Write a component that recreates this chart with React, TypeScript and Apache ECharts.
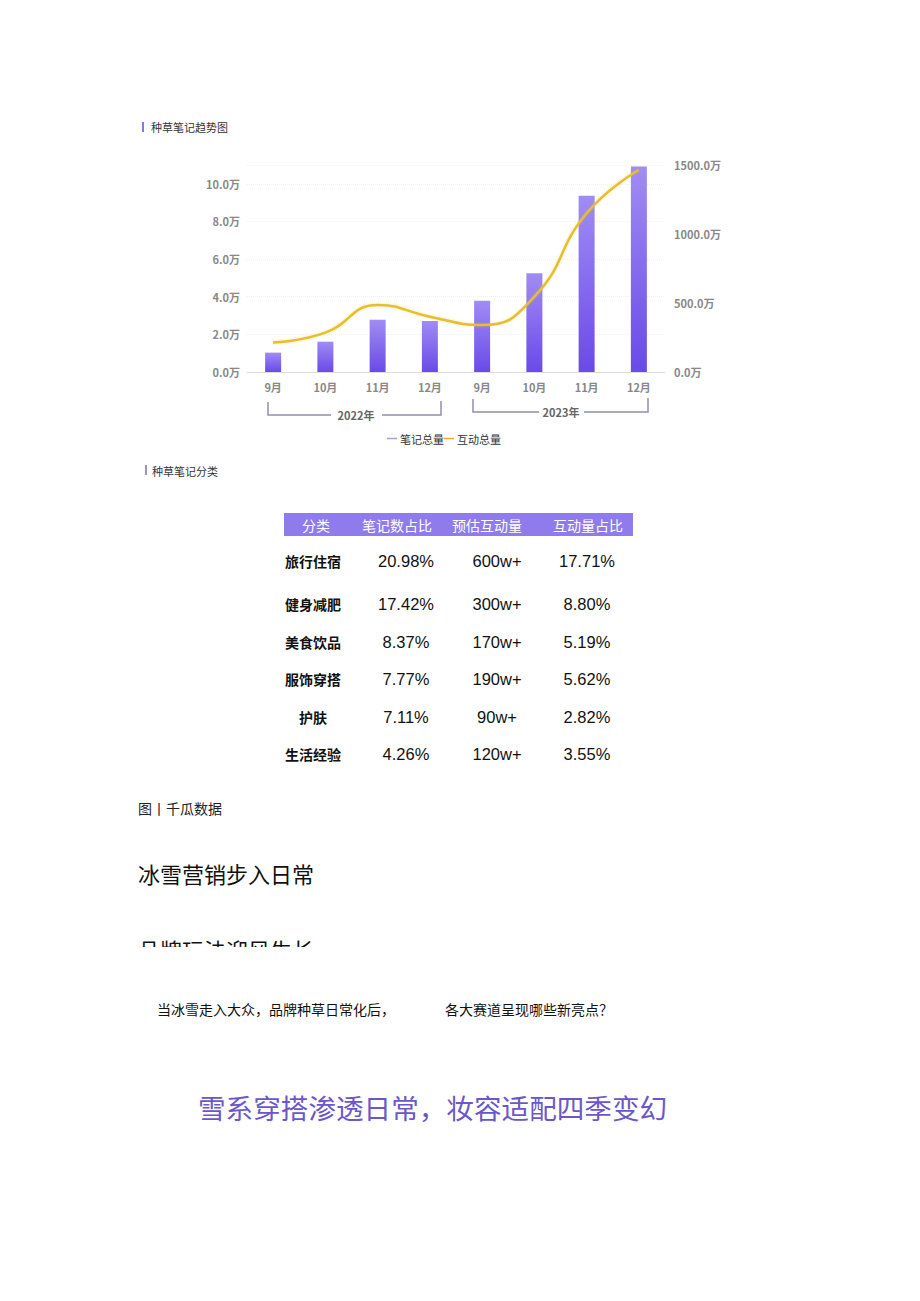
import React, { useEffect, useRef } from "react";
import * as echarts from "echarts";

// ---- chart data ----
const months = ["9月", "10月", "11月", "12月", "9月", "10月", "11月", "12月"];
const noteTotals = [1.03, 1.61, 2.77, 2.71, 3.78, 5.25, 9.36, 10.92]; // 万
const interactionTotals = [213, 285, 486, 401, 340, 546, 1150, 1464]; // 万
const yearLabels = ["2022年", "2023年"];
const seriesNames = ["笔记总量", "互动总量"];

// ---- table data ----
const tableHeaders = ["分类", "笔记数占比", "预估互动量", "互动量占比"];
const tableCategories = ["旅行住宿", "健身减肥", "美食饮品", "服饰穿搭", "护肤", "生活经验"];
const noteShare = ["20.98%", "17.42%", "8.37%", "7.77%", "7.11%", "4.26%"];
const estInteractions = ["600w+", "300w+", "170w+", "190w+", "90w+", "120w+"];
const interactionShare = ["17.71%", "8.80%", "5.19%", "5.62%", "2.82%", "3.55%"];

const CJK = "'Noto Sans CJK SC', 'Noto Sans', sans-serif";
const ARIAL = "'Liberation Sans', Arial, sans-serif";

export default function App() {
  const ref = useRef<HTMLDivElement>(null);

  useEffect(() => {
    if (!ref.current) return;
    const chart = echarts.init(ref.current, null, { renderer: "svg" });

    const colX = [313, 406, 497, 587];
    const headerX = [316, 397, 487, 588];
    const rowY = [561, 604, 642, 679, 717, 754];

    const graphics: any[] = [];
    // section titles
    graphics.push({ type: "rect", shape: { x: 142, y: 122, width: 2, height: 10 }, style: { fill: "#7b7fd6" } });
    graphics.push({ type: "text", x: 151, y: 127, style: { text: "种草笔记趋势图", font: `11px ${CJK}`, fill: "#333", verticalAlign: "middle" } });
    graphics.push({ type: "rect", shape: { x: 145, y: 465, width: 2, height: 10 }, style: { fill: "#9a9ab8" } });
    graphics.push({ type: "text", x: 152, y: 471, style: { text: "种草笔记分类", font: `11px ${CJK}`, fill: "#333", verticalAlign: "middle" } });

    // year brackets
    const bc = "#8e8fb0";
    graphics.push({ type: "polyline", shape: { points: [[268, 402], [268, 415], [331, 415]] }, style: { stroke: bc, lineWidth: 1.5, fill: null } });
    graphics.push({ type: "polyline", shape: { points: [[382, 415], [441, 415], [441, 401]] }, style: { stroke: bc, lineWidth: 1.5, fill: null } });
    graphics.push({ type: "text", x: 356, y: 415, style: { text: yearLabels[0], font: `bold 11px ${CJK}`, fill: "#666", align: "center", verticalAlign: "middle" } });
    graphics.push({ type: "polyline", shape: { points: [[473, 399], [473, 412], [539, 412]] }, style: { stroke: bc, lineWidth: 1.5, fill: null } });
    graphics.push({ type: "polyline", shape: { points: [[584, 412], [648, 412], [648, 398]] }, style: { stroke: bc, lineWidth: 1.5, fill: null } });
    graphics.push({ type: "text", x: 561, y: 412, style: { text: yearLabels[1], font: `bold 11px ${CJK}`, fill: "#666", align: "center", verticalAlign: "middle" } });

    // table header
    graphics.push({ type: "rect", shape: { x: 284, y: 513, width: 349, height: 23 }, style: { fill: "#8f7bec" } });
    tableHeaders.forEach((h, i) => {
      graphics.push({ type: "text", x: headerX[i], y: 525, style: { text: h, font: `14px ${CJK}`, fill: "#fff", align: "center", verticalAlign: "middle" } });
    });
    tableCategories.forEach((c, r) => {
      const y = rowY[r];
      graphics.push({ type: "text", x: colX[0], y, style: { text: c, font: `bold 14px ${CJK}`, fill: "#111", align: "center", verticalAlign: "middle" } });
      graphics.push({ type: "text", x: colX[1], y, style: { text: noteShare[r], font: `16.5px ${ARIAL}`, fill: "#111", align: "center", verticalAlign: "middle" } });
      graphics.push({ type: "text", x: colX[2], y, style: { text: estInteractions[r], font: `16.5px ${ARIAL}`, fill: "#111", align: "center", verticalAlign: "middle" } });
      graphics.push({ type: "text", x: colX[3], y, style: { text: interactionShare[r], font: `16.5px ${ARIAL}`, fill: "#111", align: "center", verticalAlign: "middle" } });
    });

    // text below
    graphics.push({ type: "text", x: 138, y: 808, style: { text: "图丨千瓜数据", font: `14px ${CJK}`, fill: "#222", verticalAlign: "middle" } });
    graphics.push({ type: "text", x: 138, y: 873, style: { text: "冰雪营销步入日常", font: `22px ${CJK}`, fill: "#111", verticalAlign: "middle" } });
    graphics.push({ type: "text", x: 138, y: 949, style: { text: "品牌玩法迎风生长", font: `22px ${CJK}`, fill: "#111", verticalAlign: "middle" } });
    graphics.push({ type: "rect", shape: { x: 120, y: 947, width: 300, height: 30 }, style: { fill: "#fff" } });
    graphics.push({ type: "text", x: 157, y: 1009, style: { text: "当冰雪走入大众，品牌种草日常化后，", font: `14px ${CJK}`, fill: "#111", verticalAlign: "middle" } });
    graphics.push({ type: "text", x: 445, y: 1009, style: { text: "各大赛道呈现哪些新亮点？", font: `14px ${CJK}`, fill: "#111", verticalAlign: "middle" } });
    graphics.push({ type: "text", x: 198, y: 1107, style: { text: "雪系穿搭渗透日常，妆容适配四季变幻", font: `27.6px ${CJK}`, fill: "#6b57c9", verticalAlign: "middle" } });

    chart.setOption({
      animation: false,
      backgroundColor: "#fff",
      grid: { left: 247, width: 418, top: 165, height: 207 },
      legend: {
        left: 387,
        top: 433,
        padding: 0,
        itemWidth: 10,
        itemHeight: 1.5,
        itemGap: 0,
        icon: "rect",
        textStyle: { fontSize: 11, color: "#333", fontFamily: CJK, padding: [0, 0, 0, -2] },
        data: [
          { name: seriesNames[0], itemStyle: { color: "#a3a6d8" } },
          { name: seriesNames[1], itemStyle: { color: "#f0a830" } },
        ],
      },
      xAxis: {
        type: "category",
        data: months,
        axisLine: { lineStyle: { color: "#dddddd" } },
        axisTick: { show: false },
        axisLabel: { color: "#888", fontSize: 11, fontWeight: "bold", fontFamily: CJK, margin: 9 },
      },
      yAxis: [
        {
          type: "value",
          min: 0,
          max: 11,
          interval: 2,
          axisLine: { show: false },
          axisTick: { show: false },
          splitLine: { lineStyle: { color: "#f0f0f0", type: "dotted" } },
          axisLabel: {
            color: "#888",
            fontSize: 11,
            fontWeight: "bold",
            fontFamily: CJK,
            margin: 7,
            showMaxLabel: false,
            formatter: (v: number) => v.toFixed(1) + "万",
          },
        },
        {
          type: "value",
          min: 0,
          max: 1500,
          interval: 500,
          axisLine: { show: false },
          axisTick: { show: false },
          splitLine: { show: false },
          axisLabel: {
            color: "#888",
            fontSize: 11,
            fontWeight: "bold",
            fontFamily: CJK,
            margin: 9,
            formatter: (v: number) => v.toFixed(1) + "万",
          },
        },
      ],
      series: [
        {
          name: seriesNames[0],
          type: "bar",
          data: noteTotals,
          barWidth: 16,
          itemStyle: {
            color: new echarts.graphic.LinearGradient(0, 0, 0, 1, [
              { offset: 0, color: "#a08cf4" },
              { offset: 1, color: "#6a4ae8" },
            ]),
          },
        },
        {
          name: seriesNames[1],
          type: "line",
          yAxisIndex: 1,
          data: interactionTotals,
          smooth: 0.5,
          symbol: "none",
          lineStyle: { color: "#e6bf2e", width: 2.5, shadowBlur: 3, shadowColor: "rgba(230,190,40,0.4)" },
          itemStyle: { color: "#e6bf2e" },
        },
      ],
      graphic: graphics,
    });

    return () => chart.dispose();
  }, []);

  return <div ref={ref} style={{ position: "absolute", left: 0, top: 0, width: 920, height: 1301 }} />;
}
